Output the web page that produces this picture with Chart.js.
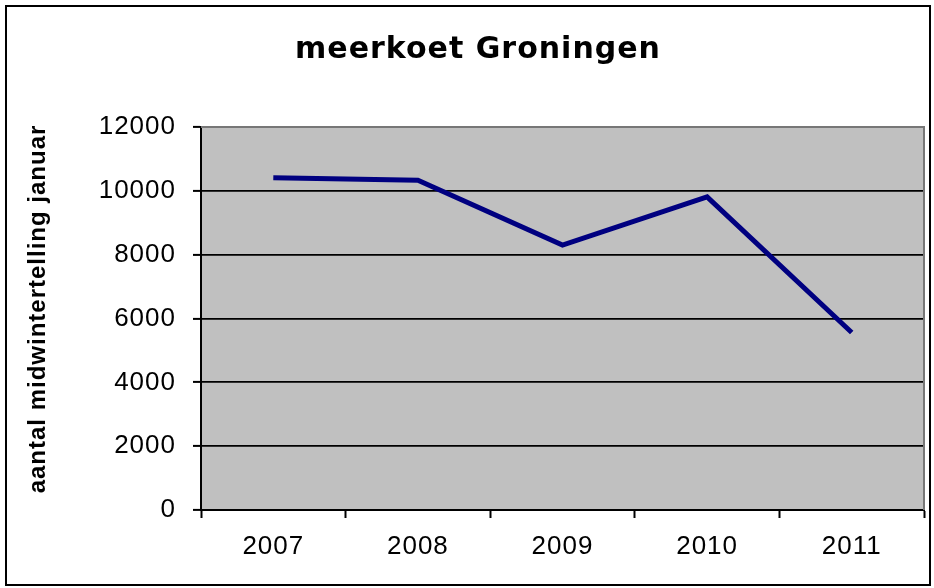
<!DOCTYPE html>
<html>
<head>
<meta charset="utf-8">
<script src="https://cdn.jsdelivr.net/npm/chart.js@4.4.0/dist/chart.umd.min.js"></script>
<style>
  html, body { margin: 0; padding: 0; background: #fff; }
</style>
</head>
<body>
<canvas id="chart" width="934" height="588"></canvas>
<script>
const years = ['2007', '2008', '2009', '2010', '2011'];
const counts = [10410, 10330, 8300, 9810, 5560];
const yTicks = [0, 2000, 4000, 6000, 8000, 10000, 12000];
const chartTitle = 'meerkoet Groningen';
const yTitle = 'aantal midwintertelling januar';

const ARIAL = "'Liberation Sans', Arial, sans-serif";
const WIDE = "'DejaVu Sans', 'Liberation Sans', Arial, sans-serif";

// gray plot area, outer frame, lighter top/right edge like the Excel original
const excelLook = {
  id: 'excelLook',
  beforeUpdate(chart) {
    chart.ctx.letterSpacing = '1px';
  },
  beforeDraw(chart) {
    const {ctx, chartArea: a} = chart;
    ctx.save();
    ctx.fillStyle = '#c0c0c0';
    ctx.fillRect(a.left, a.top, a.right - a.left, a.bottom - a.top);
    ctx.strokeStyle = '#000';
    ctx.lineWidth = 2;
    ctx.strokeRect(6, 6, 924, 579);
    ctx.restore();
  },
  beforeDatasetsDraw(chart) {
    const {ctx, chartArea: a} = chart;
    ctx.save();
    ctx.strokeStyle = '#777';
    ctx.lineWidth = 2;
    ctx.beginPath();
    ctx.moveTo(a.left, a.top);
    ctx.lineTo(a.right, a.top);
    ctx.lineTo(a.right, a.bottom);
    ctx.stroke();
    ctx.restore();
  },
  // titles drawn here so they can sit where Excel put them
  afterDraw(chart) {
    const ctx = chart.ctx;
    ctx.save();
    ctx.fillStyle = '#000';
    ctx.textAlign = 'center';
    ctx.textBaseline = 'alphabetic';
    ctx.letterSpacing = '1px';
    ctx.font = `bold 30px ${WIDE}`;
    ctx.fillText(chartTitle, 478, 58);

    ctx.translate(45, 309);
    ctx.rotate(-Math.PI / 2);
    ctx.font = `bold 24px ${ARIAL}`;
    ctx.fillText(yTitle, 0, 0);
    ctx.restore();
  }
};

new Chart(document.getElementById('chart'), {
  type: 'line',
  data: {
    labels: years,
    datasets: [{
      data: counts,
      borderColor: '#000080',
      borderWidth: 5,
      pointRadius: 0,
      tension: 0,
      fill: false
    }]
  },
  options: {
    responsive: false,
    animation: false,
    layout: { padding: { left: 7, right: 10, top: 127, bottom: 8 } },
    plugins: {
      legend: { display: false },
      tooltip: { enabled: false },
      title: { display: false }
    },
    scales: {
      x: {
        offset: true,
        grid: { offset: true, drawOnChartArea: false, tickLength: 8, tickColor: '#000', tickWidth: 2 },
        border: { display: true, color: '#000', width: 2 },
        ticks: { color: '#000', font: { family: ARIAL, size: 26 }, padding: 13, maxRotation: 0 },
        afterFit(s) { s.height = 70; }
      },
      y: {
        min: 0,
        max: 12000,
        afterBuildTicks(s) { s.ticks = yTicks.map(v => ({ value: v })); },
        ticks: { color: '#000', font: { family: ARIAL, size: 26 }, padding: 17, callback: v => String(v) },
        grid: { color: '#000', lineWidth: 1.8, tickLength: 8, tickColor: '#000', tickWidth: 2 },
        border: { color: '#000', width: 2 },
        afterFit(s) { s.width = 194; }
      }
    }
  },
  plugins: [excelLook]
});
</script>
</body>
</html>
